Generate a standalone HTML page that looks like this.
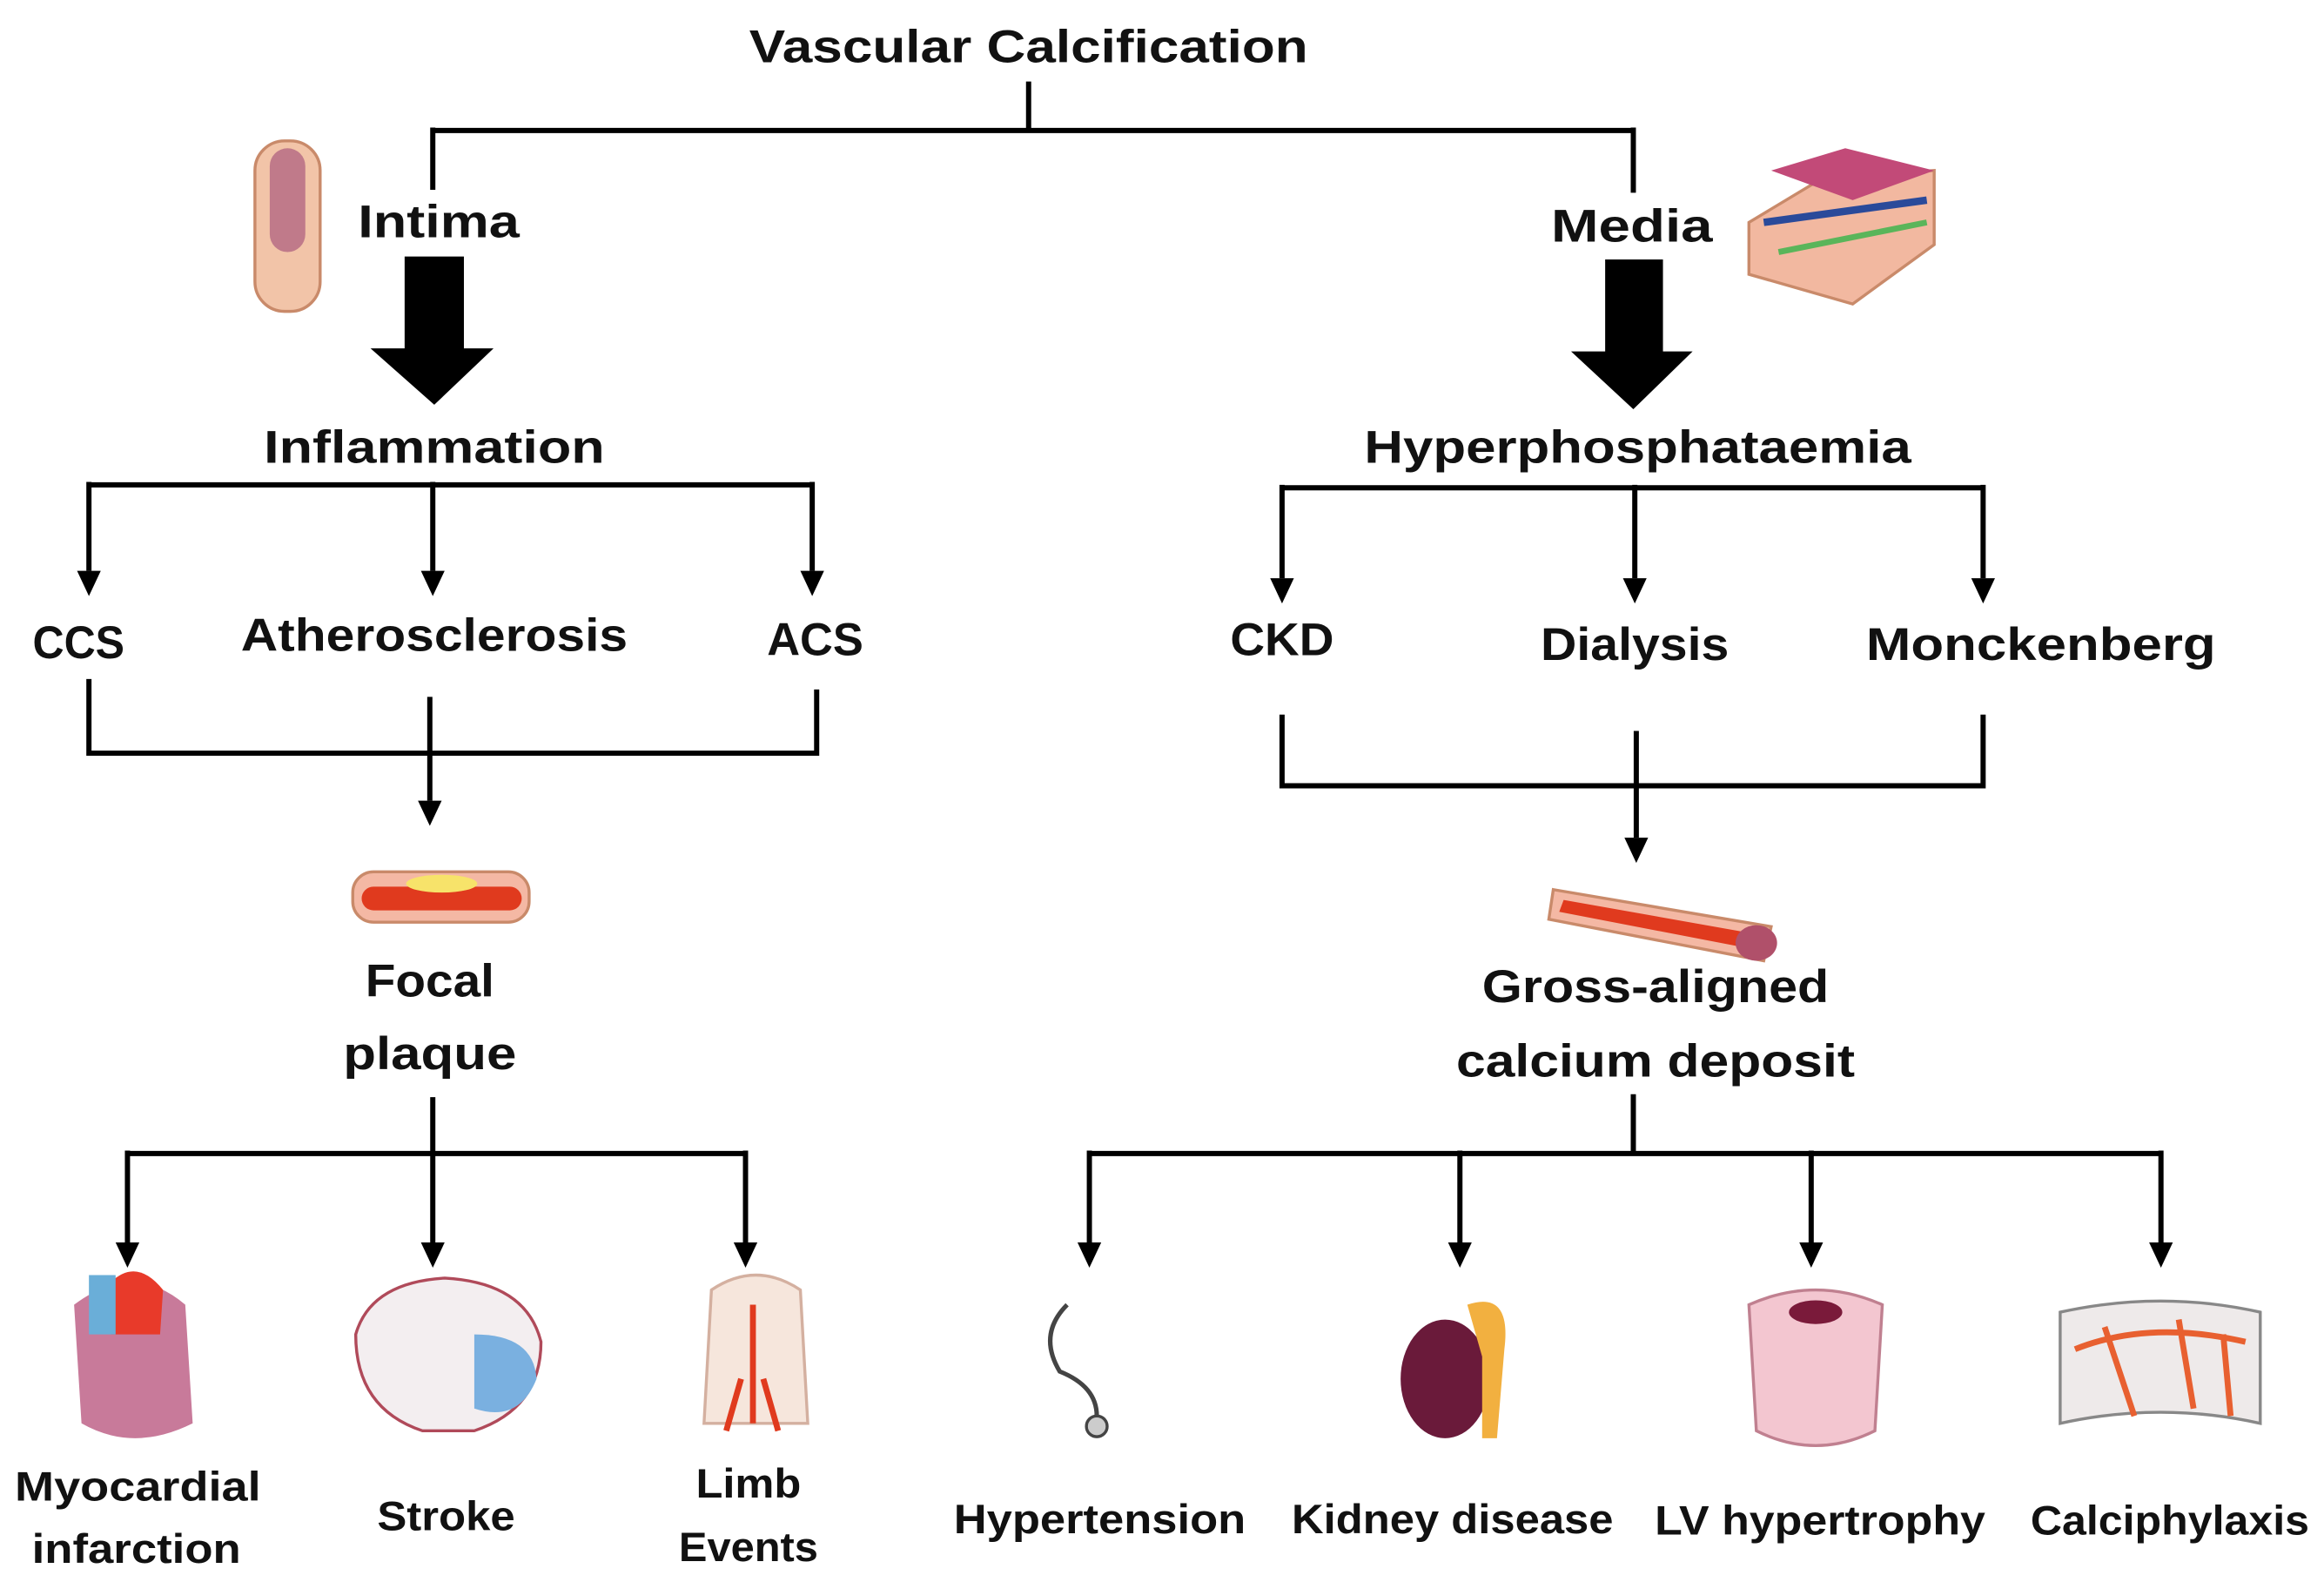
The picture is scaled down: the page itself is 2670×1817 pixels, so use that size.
<!DOCTYPE html>
<html><head><meta charset="utf-8"><style>
html,body{margin:0;padding:0;background:#fff;}
svg{display:block;}
text{font-family:"Liberation Sans",sans-serif;font-weight:bold;fill:#111;}
</style></head><body>
<svg width="2670" height="1817" viewBox="0 0 1568 1067" preserveAspectRatio="none" xmlns="http://www.w3.org/2000/svg">
<defs>
<marker id="a" markerWidth="6" markerHeight="6" refX="3" refY="5" orient="auto" markerUnits="strokeWidth"><path d="M0,0 L6,0 L3,5.5 z" fill="#000"/></marker>
</defs>
<g stroke="#000" stroke-width="3.5" fill="none">
<path d="M694,55 V88 M292,88 H1102 M292,86 V128 M1102,86 V130"/>
<path d="M60,327 H548 M60,325 V385 M292,325 V385 M548,325 V385" />
<path d="M865,329 H1338 M865,327 V390 M1103,327 V390 M1338,327 V390"/>
<path d="M60,458 V508 H551 V465 M290,470 V540"/>
<path d="M865,482 V530 H1338 V482 M1104,493 V565"/>
<path d="M292,740 V778 M86,778 H503 M86,776 V838 M292,776 V838 M503,776 V838"/>
<path d="M1102,738 V778 M735,778 H1458 M735,776 V838 M985,776 V838 M1222,776 V838 M1458,776 V838"/>
</g>
<g fill="#000">
<path d="M52,385 h16 l-8,17 z M284,385 h16 l-8,17 z M540,385 h16 l-8,17 z"/>
<path d="M857,390 h16 l-8,17 z M1095,390 h16 l-8,17 z M1330,390 h16 l-8,17 z"/>
<path d="M282,540 h16 l-8,17 z M1096,565 h16 l-8,17 z"/>
<path d="M78,838 h16 l-8,17 z M284,838 h16 l-8,17 z M495,838 h16 l-8,17 z"/>
<path d="M727,838 h16 l-8,17 z M977,838 h16 l-8,17 z M1214,838 h16 l-8,17 z M1450,838 h16 l-8,17 z"/>
<path d="M273,173 H313 V235 H333 L293,273 L250,235 H273 Z"/>
<path d="M1083,175 H1122 V237 H1142 L1102,276 L1060,237 H1083 Z"/>
</g>
<!-- icons -->
<rect x="172" y="95" width="44" height="115" rx="20" fill="#f2c4a8" stroke="#c98a6a" stroke-width="2"/>
<rect x="182" y="100" width="24" height="70" rx="12" fill="#c07a8a"/>
<path d="M1180,150 L1230,120 L1305,115 L1305,165 L1250,205 L1180,185 Z" fill="#f2b8a0" stroke="#c98a6a" stroke-width="2"/>
<path d="M1195,115 L1245,100 L1305,115 L1250,135 Z" fill="#c24a78"/>
<path d="M1190,150 L1300,135" stroke="#2a4a9a" stroke-width="5"/>
<path d="M1200,170 L1300,150" stroke="#5ab55a" stroke-width="4"/>
<rect x="238" y="588" width="119" height="34" rx="14" fill="#f4b8a4" stroke="#c98a6a" stroke-width="2"/>
<rect x="244" y="598" width="108" height="16" rx="8" fill="#e03a1e"/>
<ellipse cx="298" cy="596" rx="24" ry="6" fill="#f7e36a"/>
<path d="M1048,600 L1195,625 L1190,648 L1045,620 Z" fill="#f4b8a4" stroke="#c98a6a" stroke-width="2"/>
<path d="M1055,607 L1185,630 L1182,640 L1052,615 Z" fill="#e03a1e"/>
<ellipse cx="1185" cy="636" rx="14" ry="12" fill="#b0506a"/>
<path d="M50,880 Q90,850 125,880 L130,960 Q90,980 55,960 Z" fill="#c87a9a"/>
<path d="M70,870 Q90,845 110,870 L108,900 L75,900 Z" fill="#e83a2a"/>
<rect x="60" y="860" width="18" height="40" fill="#6aaed8"/>
<path d="M240,900 Q250,865 300,862 Q355,865 365,905 Q365,950 320,965 L285,965 Q240,950 240,900 Z" fill="#f3eef0" stroke="#b04a5a" stroke-width="2"/>
<path d="M320,900 Q360,900 362,930 Q350,960 320,950 Z" fill="#7ab0e0"/>
<path d="M480,870 Q510,850 540,870 L545,960 L475,960 Z" fill="#f6e6dc" stroke="#d4b0a0" stroke-width="2"/>
<path d="M508,880 V960 M500,930 L490,965 M515,930 L525,965" stroke="#e03a1e" stroke-width="4" fill="none"/>
<path d="M720,880 Q700,900 715,925 Q740,935 740,955" stroke="#444" stroke-width="3" fill="none"/>
<circle cx="740" cy="962" r="7" fill="#ccc" stroke="#444" stroke-width="2"/>
<ellipse cx="975" cy="930" rx="30" ry="40" fill="#6a1a3a"/>
<path d="M990,880 Q1020,870 1015,910 L1010,970 L1000,970 L1000,915 Z" fill="#f2b040"/>
<path d="M1180,880 Q1225,860 1270,880 L1265,965 Q1225,985 1185,965 Z" fill="#f3c6d0" stroke="#c08090" stroke-width="2"/>
<ellipse cx="1225" cy="885" rx="18" ry="8" fill="#7a1a3a"/>
<path d="M1390,885 Q1458,870 1525,885 L1525,960 Q1458,945 1390,960 Z" fill="#eeeaea" stroke="#888" stroke-width="2"/>
<path d="M1400,910 Q1450,890 1515,905 M1420,895 L1440,955 M1470,890 L1480,950 M1500,900 L1505,955" stroke="#e86030" stroke-width="4" fill="none"/>
<!-- text -->
<g font-size="31" text-anchor="middle">
<text x="694" y="42" textLength="377" lengthAdjust="spacingAndGlyphs">Vascular Calcification</text>
<text x="296" y="160" textLength="109" lengthAdjust="spacingAndGlyphs">Intima</text>
<text x="1101" y="163" textLength="109" lengthAdjust="spacingAndGlyphs">Media</text>
<text x="293" y="312" textLength="230" lengthAdjust="spacingAndGlyphs">Inflammation</text>
<text x="1105" y="312" textLength="369" lengthAdjust="spacingAndGlyphs">Hyperphosphataemia</text>
<text x="53" y="444" textLength="62" lengthAdjust="spacingAndGlyphs">CCS</text>
<text x="293" y="439" textLength="261" lengthAdjust="spacingAndGlyphs">Atherosclerosis</text>
<text x="550" y="442" textLength="65" lengthAdjust="spacingAndGlyphs">ACS</text>
<text x="865" y="442" textLength="70" lengthAdjust="spacingAndGlyphs">CKD</text>
<text x="1103" y="445" textLength="127" lengthAdjust="spacingAndGlyphs">Dialysis</text>
<text x="1377" y="445" textLength="236" lengthAdjust="spacingAndGlyphs">Monckenberg</text>
<text x="290" y="672" textLength="87" lengthAdjust="spacingAndGlyphs">Focal</text>
<text x="290" y="721" textLength="117" lengthAdjust="spacingAndGlyphs">plaque</text>
<text x="1117" y="676" textLength="234" lengthAdjust="spacingAndGlyphs">Gross-aligned</text>
<text x="1117" y="726" textLength="269" lengthAdjust="spacingAndGlyphs">calcium deposit</text>
</g>
<g font-size="28" text-anchor="middle">
<text x="93" y="1012" textLength="166" lengthAdjust="spacingAndGlyphs">Myocardial</text>
<text x="92" y="1054" textLength="141" lengthAdjust="spacingAndGlyphs">infarction</text>
<text x="301" y="1032" textLength="93" lengthAdjust="spacingAndGlyphs">Stroke</text>
<text x="505" y="1010" textLength="71" lengthAdjust="spacingAndGlyphs">Limb</text>
<text x="505" y="1053" textLength="94" lengthAdjust="spacingAndGlyphs">Events</text>
<text x="742" y="1034" textLength="197" lengthAdjust="spacingAndGlyphs">Hypertension</text>
<text x="980" y="1034" textLength="217" lengthAdjust="spacingAndGlyphs">Kidney disease</text>
<text x="1228" y="1035" textLength="223" lengthAdjust="spacingAndGlyphs">LV hypertrophy</text>
<text x="1464" y="1035" textLength="188" lengthAdjust="spacingAndGlyphs">Calciphylaxis</text>
</g>
</svg>
</body></html>
